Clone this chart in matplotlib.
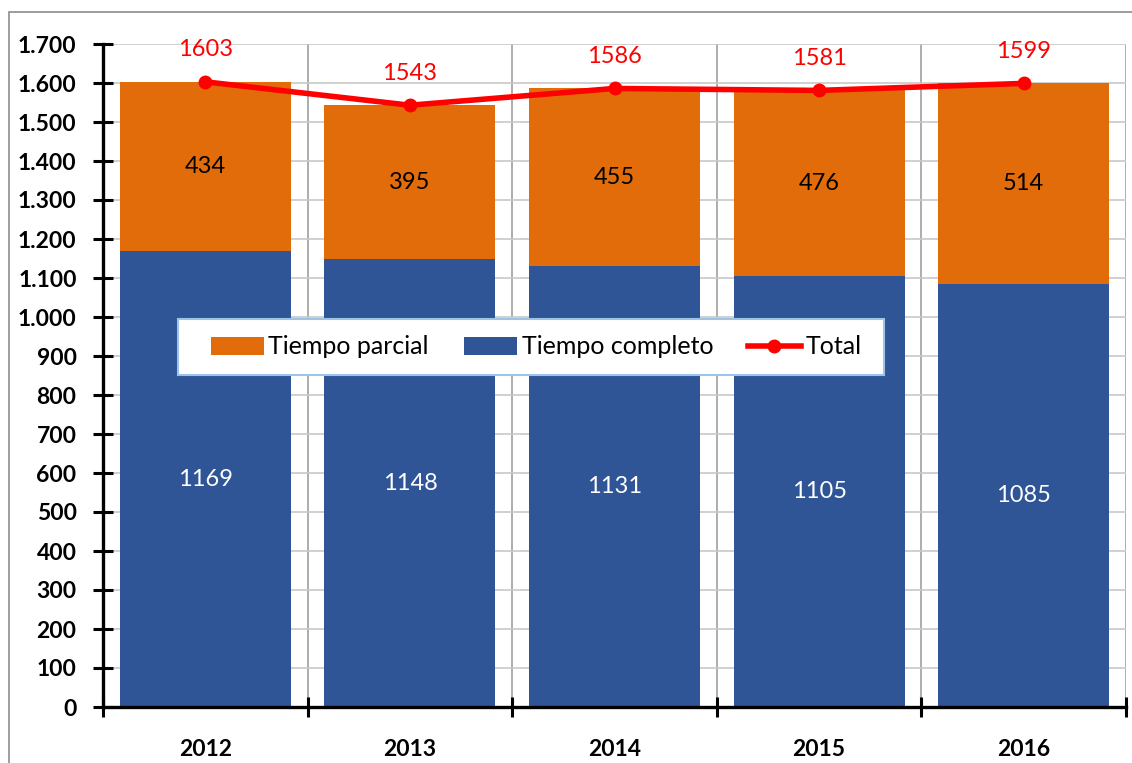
import numpy as np
import matplotlib.pyplot as plt
from matplotlib.ticker import FuncFormatter, FixedLocator
from matplotlib.patches import Rectangle

# datos
anios = ['2012', '2013', '2014', '2015', '2016']
tiempo_completo = [1169, 1148, 1131, 1105, 1085]
tiempo_parcial = [434, 395, 455, 476, 514]
total = [1603, 1543, 1586, 1581, 1599]

azul = '#2F5597'
naranja = '#E36C0A'
rojo = '#FF0000'

plt.rcParams['font.family'] = ['Lato', 'DejaVu Sans']

fig = plt.figure(figsize=(11.32, 7.63), dpi=100)
ax = fig.add_axes([103/1132, 1-707/763, 1023/1132, 663/763])

# marco de la figura
fig.patches.append(Rectangle((9/1132, -0.1), 1.2, 1-12/763+0.1, transform=fig.transFigure,
                             fill=False, edgecolor='#8C8C8C', linewidth=1.2, zorder=0))

x = np.arange(len(anios))
ancho = 0.835
b1 = ax.bar(x, tiempo_completo, ancho, color=azul, zorder=2, label='Tiempo completo')
b2 = ax.bar(x, tiempo_parcial, ancho, bottom=tiempo_completo, color=naranja, zorder=2,
            label='Tiempo parcial')
ln, = ax.plot(x, total, color=rojo, lw=4, marker='o', ms=9, zorder=4, label='Total')

for i in range(len(anios)):
    ax.text(x[i], tiempo_completo[i]/2, str(tiempo_completo[i]), ha='center', va='center',
            color='white', fontsize=17, zorder=5)
    ax.text(x[i], tiempo_completo[i] + tiempo_parcial[i]/2, str(tiempo_parcial[i]),
            ha='center', va='center', color='black', fontsize=17, zorder=5)
    ax.annotate(str(total[i]), (x[i], total[i]), xytext=(0, 23), textcoords='offset points',
                ha='center', va='center', color=rojo, fontsize=17, zorder=5)

ax.set_xlim(-0.5, 4.5)
ax.set_ylim(0, 1700)
ax.set_yticks(np.arange(0, 1701, 100))
ax.yaxis.set_major_formatter(FuncFormatter(lambda v, p: f'{int(v):,}'.replace(',', '.')))

ax.xaxis.set_major_locator(FixedLocator(np.arange(-0.5, 5, 1)))
ax.xaxis.set_minor_locator(FixedLocator(x))
ax.set_xticklabels([], minor=False)
ax.set_xticklabels(anios, minor=True)
ax.tick_params(axis='x', which='major', direction='inout', length=14, width=2.2, color='black')
ax.tick_params(axis='x', which='minor', length=0, pad=23, labelsize=16.5)
ax.tick_params(axis='y', direction='inout', length=14, width=2.2, color='black',
               labelsize=16.5, pad=12)
for lab in ax.get_xticklabels(minor=True) + ax.get_yticklabels():
    lab.set_fontweight('bold')

ax.grid(axis='y', color='#C8C8C8', lw=1.2, zorder=0)
ax.grid(axis='x', which='major', color='#A0A0A0', lw=1.2, zorder=0)
ax.set_axisbelow(True)

for s in ['top', 'right']:
    ax.spines[s].set_visible(False)
for s in ['left', 'bottom']:
    ax.spines[s].set_linewidth(2.4)
    ax.spines[s].set_zorder(6)

# caja de la leyenda
ax.add_patch(Rectangle((75/1023, 332/663), 706/1023, 56/663, transform=ax.transAxes,
                       facecolor='white', edgecolor='#9DC3E6', lw=1.5, zorder=7))
leg = ax.legend([b2, b1, ln], ['Tiempo parcial', 'Tiempo completo', 'Total'], ncol=3,
                loc='center left', bbox_to_anchor=(108/1023, 360/663), frameon=False,
                fontsize=18, handlelength=2.1, handleheight=0.75, handletextpad=0.2,
                columnspacing=1.4, borderpad=0, borderaxespad=0)
leg.set_zorder(8)

fig.savefig('out.png', dpi=100)
